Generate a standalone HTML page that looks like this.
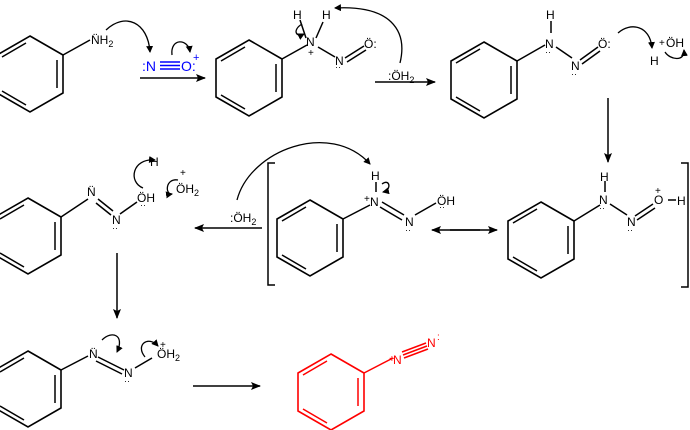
<!DOCTYPE html>
<html><head><meta charset="utf-8"><style>
html,body{margin:0;padding:0;background:#fff;}
svg{display:block;}
text{font-family:"Liberation Sans",sans-serif;}
</style></head><body>
<svg width="690" height="430" viewBox="0 0 690 430" font-size="12" xmlns="http://www.w3.org/2000/svg">
<defs>
<marker id="a" markerWidth="10" markerHeight="8" refX="9" refY="4" orient="auto" markerUnits="userSpaceOnUse"><path d="M0,0 L10,4 L0,8 L2,4 z" fill="#000"/></marker>
<marker id="c" markerWidth="7" markerHeight="7" refX="6" refY="3.5" orient="auto" markerUnits="userSpaceOnUse"><path d="M0,0 L7,3.5 L0,7 z" fill="#000"/></marker>
<symbol id="bz" overflow="visible">
<polygon points="0,-38 33,-19 33,19 0,38 -33,19 -33,-19" fill="none" stroke="currentColor" stroke-width="1.6"/>
<line x1="-4" y1="-31" x2="-28" y2="-17" stroke="currentColor" stroke-width="1.5"/>
<line x1="27" y1="-14" x2="27" y2="14" stroke="currentColor" stroke-width="1.5"/>
<line x1="-4" y1="31" x2="-28" y2="17" stroke="currentColor" stroke-width="1.5"/>
</symbol>
</defs>
<g stroke="#000" stroke-width="1.5" fill="none" color="#000">
<use href="#bz" x="30" y="74"/>
<line x1="63" y1="55" x2="90" y2="40"/>
<use href="#bz" x="249" y="78"/>
<line x1="282" y1="59" x2="307" y2="45"/>
<line x1="306" y1="38" x2="300" y2="20"/>
<line x1="316" y1="38" x2="323" y2="22"/>
<line x1="318" y1="47" x2="335" y2="57"/>
<line x1="345" y1="58" x2="364" y2="46"/><line x1="347" y1="62" x2="366" y2="50"/>
<use href="#bz" x="484" y="80"/>
<line x1="517" y1="61" x2="545" y2="45"/>
<line x1="551" y1="21" x2="551" y2="33"/>
<line x1="556" y1="47" x2="572" y2="58"/>
<line x1="580" y1="60" x2="598" y2="47"/><line x1="582" y1="64" x2="600" y2="51"/>
<use href="#bz" x="28" y="236"/>
<line x1="61" y1="217" x2="88" y2="199"/>
<line x1="98" y1="199" x2="113" y2="211"/><line x1="96" y1="203" x2="111" y2="215"/>
<line x1="120" y1="214" x2="137" y2="202"/>
<use href="#bz" x="310" y="238"/>
<line x1="343" y1="219" x2="370" y2="205"/>
<line x1="376" y1="182" x2="376" y2="192"/>
<line x1="382" y1="202" x2="404" y2="215"/><line x1="380" y1="207" x2="402" y2="220"/>
<line x1="415" y1="215" x2="436" y2="203"/>
<use href="#bz" x="541" y="240"/>
<line x1="574" y1="221" x2="600" y2="205"/>
<line x1="605" y1="181" x2="605" y2="192"/>
<line x1="610" y1="204" x2="627" y2="215"/>
<line x1="635" y1="216" x2="653" y2="204"/><line x1="637" y1="220" x2="655" y2="208"/>
<line x1="668" y1="200" x2="676" y2="200"/>
<use href="#bz" x="28" y="389"/>
<line x1="61" y1="370" x2="88" y2="356"/>
<line x1="98" y1="357" x2="124" y2="370"/><line x1="96" y1="361" x2="122" y2="374"/>
<line x1="135" y1="368" x2="152" y2="358"/>
<polyline points="275,163 268,163 268,285 275,285"/>
<polyline points="681,163 688,163 688,287 681,287"/>
<line x1="140" y1="78" x2="205" y2="78" marker-end="url(#a)"/>
<line x1="375" y1="82" x2="435" y2="82" marker-end="url(#a)"/>
<line x1="608" y1="98" x2="608" y2="162" marker-end="url(#a)"/>
<line x1="262" y1="228" x2="195" y2="228" marker-end="url(#a)"/>
<line x1="450" y1="230" x2="497" y2="230" marker-end="url(#a)"/>
<line x1="480" y1="230" x2="432" y2="230" marker-end="url(#a)"/>
<line x1="117" y1="253" x2="117" y2="318" marker-end="url(#a)"/>
<line x1="193" y1="386" x2="260" y2="386" marker-end="url(#a)"/>
<g stroke-width="1.3">
<path d="M106,30 C125,12 148,22 150,52" marker-end="url(#c)"/>
<path d="M172,55 C170,38 188,38 190,52" marker-end="url(#c)"/>
<path d="M400,63 C408,30 390,5 335,8" marker-end="url(#c)"/>
<path d="M302,24 C292,30 296,38 304,34" marker-end="url(#c)"/>
<path d="M618,33 C630,22 650,25 652,48" marker-end="url(#c)"/>
<path d="M665,52 C670,60 685,62 684,50" marker-end="url(#c)"/>
<path d="M237,200 C250,150 330,120 370,164" marker-end="url(#c)"/>
<path d="M382,184 C390,178 392,190 383,192" marker-end="url(#c)"/>
<path d="M143,188 C128,182 132,158 155,160" marker-end="url(#c)"/>
<path d="M178,180 C165,178 165,195 172,194" marker-end="url(#c)"/>
<path d="M102,340 C112,330 125,335 117,352" marker-end="url(#c)"/>
<path d="M145,357 C135,345 148,335 158,346" marker-end="url(#c)"/>
</g>
</g>
<g stroke="#00f" stroke-width="1.4">
<line x1="160" y1="62" x2="180" y2="62"/><line x1="160" y1="65.5" x2="180" y2="65.5"/><line x1="160" y1="69" x2="180" y2="69"/>
</g>
<g fill="#00f" font-size="14">
<text x="142" y="71">:N</text><text x="181" y="71">O:</text>
<text x="193" y="61" font-size="11">+</text>
</g>
<g stroke="#f00" stroke-width="1.5" fill="none" color="#f00">
<use href="#bz" x="331" y="392"/>
<line x1="364" y1="373" x2="393" y2="358"/>
<line x1="402" y1="352" x2="426" y2="343"/><line x1="403" y1="355" x2="427" y2="346"/><line x1="404" y1="358" x2="428" y2="349"/>
</g>
<g fill="#000">
<text x="91" y="44">N̈H<tspan font-size="9" dy="3">2</tspan></text>
<text x="293" y="19">H</text><text x="322" y="19">H</text>
<text x="306" y="46">N</text><text x="308" y="56" font-size="10">+</text>
<text x="335" y="65">N</text><text x="335" y="70" font-size="9">··</text>
<text x="364" y="48">Ö:</text>
<text x="388" y="80">:ÖH<tspan font-size="9" dy="3">2</tspan></text>
<text x="546" y="19">H</text>
<text x="545" y="48">N</text><text x="545" y="55" font-size="9">··</text>
<text x="571" y="70">N</text><text x="571" y="77" font-size="9">··</text>
<text x="598" y="48">Ö:</text>
<text x="659" y="46" font-size="10">+</text><text x="666" y="47">ÖH</text>
<text x="650" y="65">H</text>
<text x="87" y="196">N̈</text>
<text x="112" y="224">N</text><text x="112" y="231" font-size="9">··</text>
<text x="137" y="202">ÖH</text><text x="140" y="208" font-size="9">··</text>
<text x="150" y="166">H</text>
<text x="176" y="193">ÖH<tspan font-size="9" dy="3">2</tspan></text><text x="180" y="176" font-size="10">+</text>
<text x="230" y="222">:ÖH<tspan font-size="9" dy="3">2</tspan></text>
<text x="371" y="180">H</text>
<text x="364" y="202" font-size="10">+</text><text x="370" y="206">N</text>
<text x="405" y="226">N</text><text x="405" y="233" font-size="9">··</text>
<text x="437" y="205">ÖH</text><text x="439" y="210" font-size="9">··</text>
<text x="600" y="181">H</text>
<text x="599" y="204">N</text><text x="599" y="211" font-size="9">··</text>
<text x="627" y="226">N</text><text x="627" y="233" font-size="9">··</text>
<text x="654" y="204">O</text><text x="655" y="194" font-size="10">+</text>
<text x="677" y="205">H</text>
<text x="89" y="358">N̈</text>
<text x="124" y="377">N</text><text x="124" y="384" font-size="9">··</text>
<text x="157" y="358">ÖH<tspan font-size="9" dy="3">2</tspan></text><text x="160" y="348" font-size="10">+</text>
</g>
<g fill="#f00">
<text x="389" y="362" font-size="10">+</text><text x="393" y="364">N</text>
<text x="427" y="347">N</text><text x="437" y="340" font-size="10">:</text>
</g>
</svg>
</body></html>
